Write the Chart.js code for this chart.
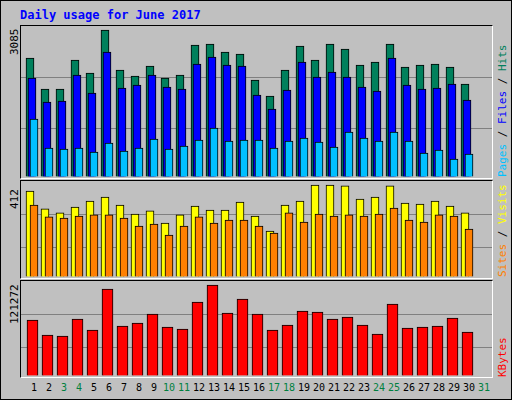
<!DOCTYPE html>
<html><head><meta charset="utf-8">
<script src="https://cdn.jsdelivr.net/npm/chart.js@4"></script>
<style>
  body { margin:0; background:#fff; }
  #wrap { position:relative; width:510px; height:398px; background:#c0c0c0; border:1px solid #000; font-family:"DejaVu Sans Mono", monospace; }
  .frame { position:absolute; left:19px; width:471px; border-top:1px solid #000; border-left:1px solid #000; border-right:1px solid #fff; border-bottom:1px solid #fff; }
  canvas { position:absolute; }
  .vl { position:absolute; transform-origin:0 0; transform:rotate(-90deg); white-space:nowrap; font-size:11px; }
  #title { position:absolute; left:19px; top:7px; color:#0000ff; font-weight:bold; font-size:12px; }
  #days span { position:absolute; top:381px; font-size:10px; width:16px; text-align:center; }
</style></head>
<body>
<div id="wrap">
  <div id="title">Daily usage for June 2017</div>
  <div class="frame" style="top:24px;height:152px"></div>
  <div class="frame" style="top:179px;height:97px"></div>
  <div class="frame" style="top:279px;height:96px"></div>
  <canvas id="c1" style="left:20px;top:26px" width="471" height="150"></canvas>
  <canvas id="c2" style="left:20px;top:180px" width="471" height="96"></canvas>
  <canvas id="c3" style="left:20px;top:280px" width="471" height="95"></canvas>
  <div class="vl" style="left:7px;top:54px">3085</div>
  <div class="vl" style="left:7px;top:208px">412</div>
  <div class="vl" style="left:7px;top:323px">121272</div>
  <div class="vl" style="left:495px;top:176px"><span style="color:#00c0ff">Pages</span> / <span style="color:#0000ff">Files</span> / <span style="color:#00805c">Hits</span></div>
  <div class="vl" style="left:495px;top:276px"><span style="color:#ff8000">Sites</span> / <span style="color:#ffff00">Visits</span></div>
  <div class="vl" style="left:495px;top:376px"><span style="color:#ff0000">KBytes</span></div>
  <div id="days"></div>
</div>
<script>
const days = Array.from({length: 31}, (_, i) => i + 1);
const weekend = [3, 4, 10, 11, 17, 18, 24, 25, 31];
const hits = [2497,1847,1847,2455,2183,3085,2246,2120,2330,2078,2141,2770,2792,2624,2582,2036,1700,2246,2750,2455,2792,2687,2351,2414,2792,2309,2351,2372,2309,1952,0];
const files = [2078,1574,1595,2141,1763,2624,1868,1931,2141,1889,1847,2372,2519,2351,2330,1721,1427,1826,2414,2099,2204,2099,1889,1805,2497,1931,1847,1868,1952,1616,0];
const pages = [1217,609,588,609,525,714,546,609,798,588,651,777,1028,756,777,777,609,756,819,735,630,945,819,756,945,756,504,567,378,483,0];
const visits = [385,305,287,313,340,358,322,282,296,242,278,318,300,300,336,273,206,322,340,412,412,408,349,358,408,331,327,340,318,287,0];
const sites = [322,269,264,273,278,278,264,228,237,188,228,269,242,255,255,228,197,287,246,282,273,278,273,282,309,255,246,278,273,215,0];
const kbytes = [74630,54640,53300,75960,61300,115940,66630,70630,82620,65300,62630,98610,121272,83950,102610,82620,61300,67960,86620,85290,75960,78620,67960,55970,95950,63960,65300,66630,77290,58630,0];

const dayEl = document.getElementById('days');
days.forEach(d => {
  const s = document.createElement('span');
  s.textContent = d;
  s.style.left = (25 + 15 * (d - 1)) + 'px';
  s.style.color = weekend.includes(d) ? '#008040' : '#000';
  dayEl.appendChild(s);
});

function ds(values, shift, color, width) {
  return {
    data: values.map((v, i) => ({x: days[i] + shift / 15, y: v})),
    backgroundColor: color, borderColor: '#000', borderWidth: 1,
    barThickness: width, grouped: false, borderSkipped: 'bottom'
  };
}

function panel(id, datasets, max, grid) {
  new Chart(document.getElementById(id), {
    type: 'bar',
    data: {datasets},
    options: {
      responsive: false, animation: false,
      plugins: {legend: {display: false}, tooltip: {enabled: false}},
      layout: {padding: 0},
      scales: {
        x: {type: 'linear', min: 0.267, max: 31.667, offset: false, display: false},
        y: {
          min: 0, max: max, border: {display: false},
          ticks: {display: false},
          grid: {drawTicks: false, color: c => (c.tick.value > 0 && c.tick.value < max) ? '#808080' : 'rgba(0,0,0,0)'},
          afterBuildTicks: s => { s.ticks = [0, ...grid, max].map(v => ({value: v})); }
        }
      }
    }
  });
}

panel('c1', [ds(pages, 2, '#00c0ff', 8), ds(files, 0, '#0000ff', 8), ds(hits, -2, '#00805c', 8)],
  3148, [3148 * 49 / 150, 3148 * 100 / 150]);
panel('c2', [ds(sites, 2, '#ff8000', 8), ds(visits, -2, '#ffff00', 8)],
  430, [430 * 30 / 96, 430 * 63 / 96]);
panel('c3', [ds(kbytes, 0.5, '#ff0000', 11)],
  126600, [126600 * 29 / 95, 126600 * 62 / 95]);
</script>
</body></html>
